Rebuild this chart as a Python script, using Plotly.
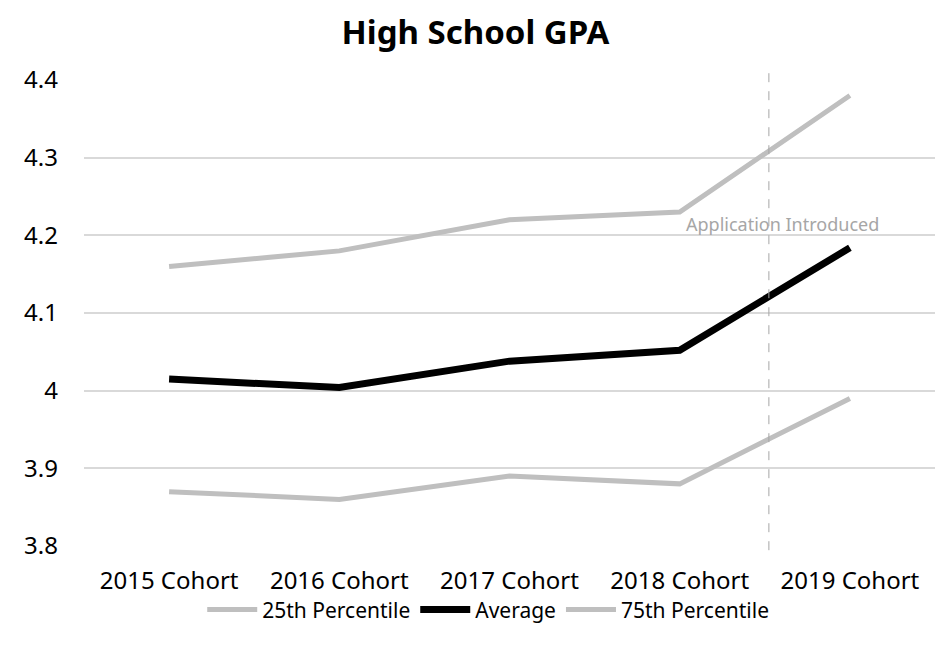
import plotly.graph_objects as go

categories = ["2015 Cohort", "2016 Cohort", "2017 Cohort", "2018 Cohort", "2019 Cohort"]
p25 = [3.87, 3.86, 3.89, 3.88, 3.99]
average = [4.015, 4.004, 4.038, 4.052, 4.184]
p75 = [4.16, 4.18, 4.22, 4.23, 4.38]
y_ticks = [3.8, 3.9, 4.0, 4.1, 4.2, 4.3, 4.4]
y_tick_labels = ["3.8", "3.9", "4", "4.1", "4.2", "4.3", "4.4"]

FONT = "Noto Sans"
x_idx = list(range(len(categories)))

fig = go.Figure()
fig.add_trace(go.Scatter(x=x_idx, y=p25, mode="lines", name="25th Percentile",
                         line=dict(color="#bfbfbf", width=5)))
fig.add_trace(go.Scatter(x=x_idx, y=average, mode="lines", name="Average",
                         line=dict(color="#000000", width=7)))
fig.add_trace(go.Scatter(x=x_idx, y=p75, mode="lines", name="75th Percentile",
                         line=dict(color="#bfbfbf", width=5)))

fig.add_shape(type="line", xref="x", yref="paper", x0=3.524, x1=3.524, y0=-0.009, y1=1.032,
              line=dict(color="#a6a6a6", width=1, dash="dash"))
fig.add_annotation(x=3.606, y=4.215, xref="x", yref="y", text="Application Introduced",
                   showarrow=False, font=dict(family=FONT, size=18, color="#a6a6a6"))

fig.update_layout(
    width=935, height=644,
    paper_bgcolor="white", plot_bgcolor="white",
    margin=dict(l=76, r=8, t=72, b=106),
    title=dict(text="<b>High School GPA</b>", x=0.5, xanchor="center", y=0.962, yanchor="middle",
               font=dict(family=FONT, size=33, color="#000000")),
    font=dict(family=FONT, color="#000000"),
    showlegend=True,
    legend=dict(orientation="h", x=0.475, xanchor="center", y=-0.137, yanchor="middle",
                font=dict(family=FONT, size=21, color="#000000"), itemwidth=50),
    xaxis=dict(range=[-0.5, 4.5], tickmode="array", tickvals=x_idx, ticktext=categories,
               showgrid=False, zeroline=False, showline=False, ticks="",
               tickfont=dict(family=FONT, size=24, color="#000000"), ticklabelstandoff=18),
    yaxis=dict(range=[3.8, 4.4], tickmode="array", tickvals=y_ticks, ticktext=y_tick_labels,
               showgrid=True, gridcolor="#d9d9d9", gridwidth=1.5, zeroline=False, showline=False,
               ticks="", tickfont=dict(family=FONT, size=24, color="#000000"), ticklabelstandoff=25),
)

fig.write_html("out.html")
